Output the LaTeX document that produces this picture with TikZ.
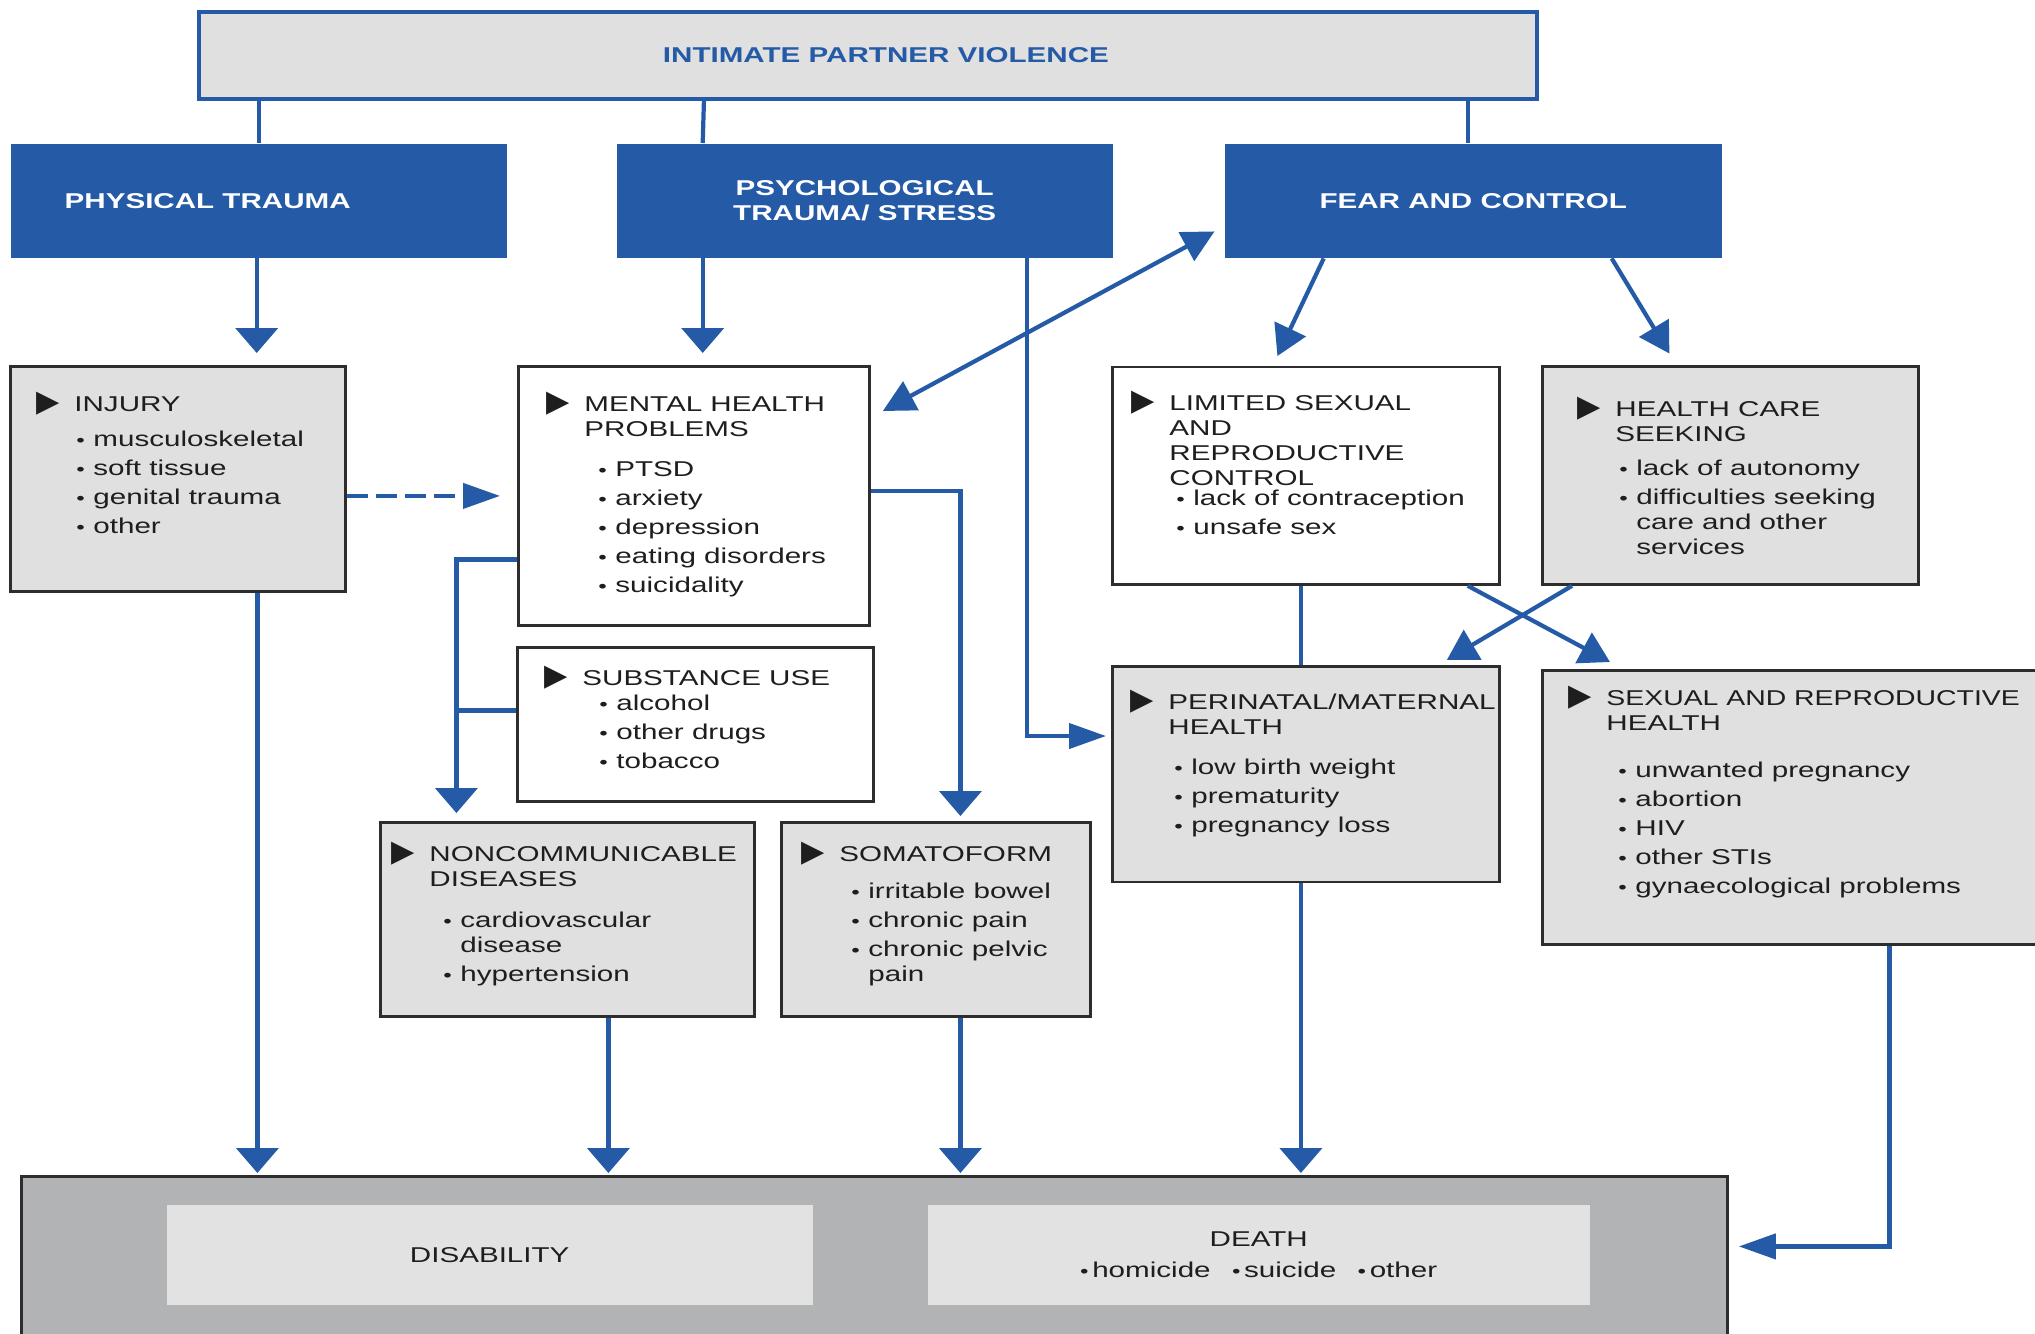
\documentclass[tikz,border=0pt]{standalone}
\usepackage{fontspec}
\setmainfont[FakeStretch=1.38]{Liberation Sans}
\newfontfamily\trifont{DejaVu Sans}
\usetikzlibrary{arrows.meta}
\definecolor{ipvblue}{RGB}{36,90,166}
\definecolor{cellgray}{RGB}{224,224,224}
\definecolor{outgray}{RGB}{178,179,181}
\definecolor{inngray}{RGB}{226,226,226}
\definecolor{cellline}{RGB}{45,45,45}
\definecolor{textdark}{RGB}{30,30,30}
\newlength\mkpad
\newlength\bulpad
\newcommand\mk{\hspace*{-0.03cm}\smash{\fontsize{8.6}{7.1}\trifont ▶}}
\newcommand\bul{{\fontsize{5}{5}\selectfont\textbullet}}
\newcommand\hd[1]{\hspace*{\mkpad}\makebox[0.35cm][l]{\mk}\strut#1\par}
\newcommand\hdc[1]{\hspace*{\mkpad}\hspace*{0.35cm}\strut#1\par}
\newcommand\itm[1]{\vspace{1.15pt}\hspace*{\bulpad}\makebox[0.17cm][l]{\bul}\strut#1\par}
\newcommand\itc[1]{\hspace*{\bulpad}\hspace*{0.17cm}\strut#1\par}
% width, height, top pad, marker pad, bullet pad, body
\newcommand\cbody[6]{\parbox[c][#2][t]{#1}{\setlength\mkpad{#4}\setlength\bulpad{#5}\vspace*{#3}#6}}
\tikzset{
    topbox/.style = {rectangle, draw=ipvblue, line width=1.1pt, fill=cellgray, text=ipvblue, font=\bfseries, inner sep=0pt, anchor=north west},
    causebox/.style = {rectangle, fill=ipvblue, text=white, font=\bfseries, inner sep=0pt, anchor=north west, minimum height=1.14cm, align=center},
    cellw/.style = {rectangle, draw=cellline, line width=0.8pt, fill=white, text=textdark, inner sep=0pt, anchor=north west},
    cellg/.style = {cellw, fill=cellgray},
    outbox/.style = {rectangle, draw=cellline, line width=0.8pt, fill=outgray, anchor=north west, minimum width=17.06cm, minimum height=1.8cm},
    innbox/.style = {rectangle, fill=inngray, text=textdark, inner sep=0pt, anchor=north west, minimum height=1.0cm, align=center},
    link/.style = {line width=1.2pt, draw=ipvblue},
    edgev/.style = {link, -{Triangle[length=0.25cm,width=0.42cm]}},
    edgeh/.style = {link, -{Triangle[length=0.37cm,width=0.25cm]}},
    edged/.style = {link, -{Triangle[length=0.3cm,width=0.34cm]}},
    edgedd/.style = {link, {Triangle[length=0.32cm,width=0.32cm]}-{Triangle[length=0.32cm,width=0.32cm]}},
    edgedash/.style = {edgeh, dash pattern=on 0.21cm off 0.08cm}, % injury -> mental
    every picture/.style={font issue=\fontsize{6.1}{7.1}\selectfont},
    font issue/.style={execute at begin picture={#1}}
}
\begin{document}
\begin{tikzpicture}
\useasboundingbox (0,0) rectangle (20.35,-13.33);
%
\node[topbox, minimum width=13.38cm, minimum height=0.87cm] at (1.97,-0.10) (ipv) {\hspace*{0.36cm}INTIMATE PARTNER VIOLENCE};
\node[causebox, minimum width=4.96cm] at (0.10,-1.43) (phys) {\makebox[4.96cm][l]{\hspace*{0.54cm}PHYSICAL TRAUMA}};
\node[causebox, minimum width=4.96cm] at (6.16,-1.43) (psych) {PSYCHOLOGICAL\\TRAUMA/ STRESS};
\node[causebox, minimum width=4.97cm] at (12.24,-1.43) (fear) {FEAR AND CONTROL};
%
\node[cellg] at (0.09,-3.65) (injury) {\cbody{3.35cm}{2.25cm}{0.275cm}{0.29cm}{0.66cm}{%
  \hd{INJURY}\vspace{0.06cm}
  \itm{musculoskeletal}\itm{soft tissue}\itm{genital trauma}\itm{other}}};
\node[cellw] at (5.17,-3.65) (mental) {\cbody{3.51cm}{2.59cm}{0.275cm}{0.31cm}{0.80cm}{%
  \hd{MENTAL HEALTH}\hdc{PROBLEMS}\vspace{0.11cm}
  \itm{PTSD}\itm{arxiety}\itm{depression}\itm{eating disorders}\itm{suicidality}}};
\node[cellw] at (5.16,-6.46) (subst) {\cbody{3.56cm}{1.54cm}{0.21cm}{0.30cm}{0.82cm}{%
  \hd{SUBSTANCE USE}\vspace{-0.04cm}
  \itm{alcohol}\itm{other drugs}\itm{tobacco}}};
\node[cellg] at (3.79,-8.21) (noncomm) {\cbody{3.74cm}{1.94cm}{0.215cm}{0.14cm}{0.63cm}{%
  \hd{NONCOMMUNICABLE}\hdc{DISEASES}\vspace{0.12cm}
  \itm{cardiovascular}\itc{disease}\itm{hypertension}}};
\node[cellg] at (7.80,-8.21) (somato) {\cbody{3.09cm}{1.94cm}{0.215cm}{0.23cm}{0.70cm}{%
  \hd{SOMATOFORM}\vspace{0.08cm}
  \itm{irritable bowel}\itm{chronic pain}\itm{chronic pelvic}\itc{pain}}};
\node[cellw] at (11.11,-3.655) (limited) {\cbody{3.87cm}{2.175cm}{0.265cm}{0.22cm}{0.64cm}{%
  \hd{LIMITED SEXUAL}\hdc{AND}\hdc{REPRODUCTIVE}\hdc{CONTROL}\vspace{-0.09cm}
  \itm{lack of contraception}\itm{unsafe sex}}};
\node[cellg] at (15.41,-3.65) (hc) {\cbody{3.76cm}{2.18cm}{0.325cm}{0.38cm}{0.77cm}{%
  \hd{HEALTH CARE}\hdc{SEEKING}\vspace{0.05cm}
  \itm{lack of autonomy}\itm{difficulties seeking}\itc{care and other}\itc{services}}};
\node[cellg] at (11.11,-6.65) (perinatal) {\cbody{3.87cm}{2.155cm}{0.26cm}{0.21cm}{0.62cm}{%
  \hd{PERINATAL/MATERNAL}\hdc{HEALTH}\vspace{0.11cm}
  \itm{low birth weight}\itm{prematurity}\itm{pregnancy loss}}};
\node[cellg] at (15.41,-6.69) (srh) {\cbody{5.2cm}{2.74cm}{0.175cm}{0.29cm}{0.76cm}{%
  \hd{\scalebox{0.96}[1]{SEXUAL AND REPRODUCTIVE}}\hdc{HEALTH}\vspace{0.18cm}
  \itm{unwanted pregnancy}\itm{abortion}\itm{HIV}\itm{other STIs}\itm{gynaecological problems}}};
%
\node[outbox] at (0.20,-11.75) (outcome) {};
\node[innbox, minimum width=6.46cm] at (1.66,-12.04) (disab) {DISABILITY};
\node[innbox, minimum width=6.62cm] at (9.27,-12.04) (death) {DEATH\\[1.9pt]\bul\,homicide\quad\bul\,suicide\quad\bul\,other};
%
\draw[link] (phys.north |- ipv.south) -- (phys.north);
\draw[link] ([xshift=-1.64cm]ipv.south) -- ([xshift=-1.62cm]psych.north);
\draw[link] ([xshift=-0.05cm]fear.north |- ipv.south) -- ([xshift=-0.05cm]fear.north);
\draw[edgev] ([xshift=-0.02cm]phys.south) -- ([xshift=-0.02cm,yshift=0.12cm]phys.south |- injury.north);
\draw[edgev] ([xshift=-1.62cm]psych.south) -- ([xshift=-1.62cm,yshift=0.12cm]psych.south |- mental.north);
\draw[edgeh] ([xshift=1.62cm]psych.south) |- ([xshift=-0.05cm,yshift=-0.71cm]perinatal.north west);
\draw[edged] ([xshift=-1.495cm]fear.south) -- ([xshift=-0.285cm,yshift=0.095cm]limited.north);
\draw[edged] ([xshift=1.385cm]fear.south) -- ([xshift=-0.61cm,yshift=0.115cm]hc.north);
\draw[edgedd] ([xshift=0.12cm,yshift=-0.46cm]mental.north east) -- ([xshift=-0.095cm,yshift=0.27cm]fear.south west);
\draw[edgedash] ([yshift=-0.17cm]injury.east) -- ([xshift=-0.17cm]mental.west);
\draw[edgev] ([yshift=0.05cm]mental.east) -| ([xshift=0.245cm,yshift=0.05cm]somato.north);
\draw[edgev] ([yshift=-0.635cm]mental.west) -| ([xshift=-1.11cm,yshift=0.08cm]noncomm.north);
\draw[link] ([yshift=0.14cm]subst.west) -- ([xshift=-1.11cm,yshift=0.14cm]noncomm.north |- subst.west);
\draw[link] ([xshift=-0.05cm]limited.south) -- ([xshift=-0.05cm]perinatal.north);
\draw[edged] ([xshift=-0.33cm]limited.south east) -- ([xshift=0.69cm,yshift=0.07cm]srh.north west);
\draw[edged] ([xshift=0.31cm]hc.south west) -- ([xshift=-0.54cm,yshift=0.05cm]perinatal.north east);
%
\draw[edgev] ([xshift=0.795cm]injury.south) -- ([xshift=0.795cm,yshift=0.02cm]injury.south |- outcome.north);
\draw[edgev] ([xshift=0.41cm]noncomm.south) -- ([xshift=0.41cm,yshift=0.02cm]noncomm.south |- outcome.north);
\draw[edgev] ([xshift=0.245cm]somato.south) -- ([xshift=0.245cm,yshift=0.02cm]somato.south |- outcome.north);
\draw[edgev] ([xshift=-0.05cm]perinatal.south) -- ([xshift=-0.05cm,yshift=0.02cm]perinatal.south |- outcome.north);
\draw[edgeh] ([xshift=0.87cm]srh.south) |- ([xshift=0.10cm,yshift=0.20cm]outcome.east);
\end{tikzpicture}
\end{document}
